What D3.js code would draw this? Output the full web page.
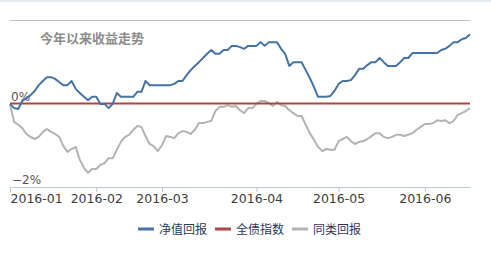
<!DOCTYPE html>
<html>
<head>
<meta charset="utf-8">
<script src="https://cdn.jsdelivr.net/npm/d3@7"></script>
<style>
  body { margin: 0; background: #fff; }
  svg { display: block; }
</style>
</head>
<body>
<div id="chart"></div>
<script>
const title = "今年以来收益走势";
const seriesNames = ["净值回报", "全债指数", "同类回报"];
const seriesColors = ["#4572a7", "#aa4643", "#b3b3b3"];

// tick labels and the trading-day index each one sits on
const tickLabels = ["2016-01", "2016-02", "2016-03", "2016-04", "2016-05", "2016-06"];
const tickIndex = [0, 21, 37, 60, 80, 101];
const yTicks = [0, -2];

// daily returns in %, one per trading day
const navReturn = [
  -0.01, -0.11, -0.13, 0.06, 0.13, 0.20, 0.30, 0.44, 0.54, 0.63,
  0.63, 0.59, 0.51, 0.44, 0.44, 0.54, 0.35, 0.25, 0.16, 0.08,
  0.16, 0.16, -0.01, -0.01, -0.11, -0.01, 0.25, 0.16, 0.16, 0.16,
  0.16, 0.28, 0.28, 0.54, 0.44, 0.44, 0.44, 0.44, 0.44, 0.44,
  0.47, 0.54, 0.54, 0.68, 0.80, 0.90, 0.99, 1.09, 1.19, 1.28,
  1.19, 1.19, 1.28, 1.28, 1.38, 1.38, 1.35, 1.31, 1.38, 1.38,
  1.38, 1.47, 1.38, 1.47, 1.47, 1.47, 1.31, 1.19, 0.90, 0.99,
  0.99, 0.99, 0.80, 0.61, 0.40, 0.16, 0.16, 0.16, 0.18, 0.30,
  0.47, 0.54, 0.54, 0.56, 0.68, 0.83, 0.83, 0.92, 0.99, 0.99,
  1.09, 0.99, 0.90, 0.90, 0.90, 0.99, 1.09, 1.09, 1.21, 1.21,
  1.21, 1.21, 1.21, 1.21, 1.21, 1.28, 1.31, 1.38, 1.47, 1.47,
  1.54, 1.57, 1.66
];

const bondIndex = [
  0, 0, 0, 0, 0, 0, 0, 0, 0, 0, 0, 0, 0, 0, 0, 0, 0, 0, 0, 0,
  0, 0, 0, 0, 0, 0, 0, 0, 0, 0, 0, 0, 0, 0, 0, 0, 0, 0, 0, 0,
  0, 0, 0, 0, 0, 0, 0, 0, 0, 0, 0, 0, 0, 0, 0, 0, 0, 0, 0, 0,
  0, 0, 0, 0, 0, 0, 0, 0, 0, 0, 0, 0, 0, 0, 0, 0, 0, 0, 0, 0,
  0, 0, 0, 0, 0, 0, 0, 0, 0, 0, 0, 0, 0, 0, 0, 0, 0, 0, 0, 0,
  0, 0, 0, 0, 0, 0, 0, 0, 0, 0, 0, 0, 0
];

const peerReturn = [
  -0.01, -0.44, -0.51, -0.59, -0.73, -0.80, -0.85, -0.80, -0.68, -0.61,
  -0.68, -0.73, -0.80, -1.02, -1.16, -1.09, -1.04, -1.35, -1.54, -1.66,
  -1.57, -1.57, -1.47, -1.43, -1.31, -1.31, -1.11, -0.92, -0.80, -0.75,
  -0.63, -0.54, -0.56, -0.78, -0.97, -1.02, -1.14, -1.00, -0.78, -0.80,
  -0.83, -0.71, -0.66, -0.68, -0.73, -0.63, -0.47, -0.47, -0.44, -0.42,
  -0.18, -0.08, -0.08, -0.04, -0.08, -0.06, -0.16, -0.23, -0.11, -0.11,
  -0.01, 0.06, 0.06, 0.01, -0.06, 0.04, -0.04, -0.06, -0.16, -0.23,
  -0.30, -0.30, -0.51, -0.71, -0.87, -1.04, -1.14, -1.09, -1.11, -1.11,
  -0.90, -0.85, -0.80, -0.90, -0.97, -0.92, -0.90, -0.85, -0.78, -0.71,
  -0.71, -0.80, -0.83, -0.80, -0.75, -0.75, -0.78, -0.75, -0.71, -0.63,
  -0.56, -0.49, -0.49, -0.47, -0.40, -0.42, -0.40, -0.47, -0.42, -0.28,
  -0.23, -0.18, -0.11
];

const width = 491, height = 256;
const plotLeft = 10, plotRight = 470, plotTop = 20, plotBottom = 187;

const svg = d3.select("#chart")
              .append("svg")
              .attr("width", width)
              .attr("height", height);

// thin frame line on the very top
svg.append("rect")
   .attr("x", 0).attr("y", 0)
   .attr("width", width).attr("height", 2)
   .attr("fill", "#e4eaf1");

const x = d3.scaleLinear()
            .domain([0, navReturn.length - 1])
            .range([plotLeft, plotRight]);

const y = d3.scaleLinear()
            .domain([-2, 2])
            .range([plotBottom, plotTop]);

// top grid line
svg.append("line")
   .attr("x1", plotLeft).attr("x2", plotRight)
   .attr("y1", y(2) + 0.5).attr("y2", y(2) + 0.5)
   .attr("stroke", "#c0c0c0");

// title
svg.append("text")
   .attr("x", 40)
   .attr("y", 43)
   .attr("fill", "#8c8c8c")
   .style("font-family", "'Noto Sans CJK SC', sans-serif")
   .style("font-size", "13px")
   .style("font-weight", "bold")
   .text(title);

// X axis
const xAxis = svg.append("g")
   .attr("transform", `translate(0, ${plotBottom})`)
   .call(d3.axisBottom(x)
           .tickValues(tickIndex)
           .tickSize(5)
           .tickFormat((d, i) => tickLabels[i]));

xAxis.select(".domain").remove();
xAxis.append("line")
     .attr("x1", plotLeft).attr("x2", plotRight)
     .attr("y1", 0.5).attr("y2", 0.5)
     .attr("stroke", "#b7c7dc");
xAxis.selectAll(".tick line").attr("stroke", "#b7c7dc");
xAxis.selectAll(".tick text")
     .attr("y", 7)
     .attr("fill", "#3d3d3d")
     .style("font-family", "'DejaVu Sans', sans-serif")
     .style("font-size", "12.5px")
     .attr("text-anchor", (d, i) => i === 0 ? "start" : "middle");

// Y labels
svg.selectAll(".ylab")
   .data(yTicks)
   .join("text")
   .attr("class", "ylab")
   .attr("x", d => d === 0 ? plotLeft + 1 : plotLeft + 2)
   .attr("y", d => y(d) - 3)
   .attr("fill", "#555")
   .style("font-family", "'DejaVu Sans', sans-serif")
   .style("font-size", "12px")
   .text(d => (d < 0 ? "\u2212" + Math.abs(d) : d) + "%");

const line = d3.line()
               .x((d, i) => x(i))
               .y(d => y(d));

const allSeries = [peerReturn, bondIndex, navReturn];
const drawColors = [seriesColors[2], seriesColors[1], seriesColors[0]];

svg.selectAll(".series")
   .data(allSeries)
   .join("path")
   .attr("class", "series")
   .attr("fill", "none")
   .attr("stroke", (d, i) => drawColors[i])
   .attr("stroke-width", 2)
   .attr("stroke-linejoin", "round")
   .attr("d", d => line(d));

// Legend
const legendX = [138, 215, 292];
const legend = svg.selectAll(".legend")
                  .data(seriesNames)
                  .join("g")
                  .attr("class", "legend")
                  .attr("transform", (d, i) => `translate(${legendX[i]}, 229)`);

legend.append("line")
      .attr("x1", 0).attr("x2", 16)
      .attr("y1", 0).attr("y2", 0)
      .attr("stroke", (d, i) => seriesColors[i])
      .attr("stroke-width", 3);

legend.append("text")
      .attr("x", 21)
      .attr("y", 5)
      .attr("fill", "#1f3b5e")
      .style("font-family", "'Noto Sans CJK SC', sans-serif")
      .style("font-size", "12px")
      .text(d => d);
</script>
</body>
</html>
